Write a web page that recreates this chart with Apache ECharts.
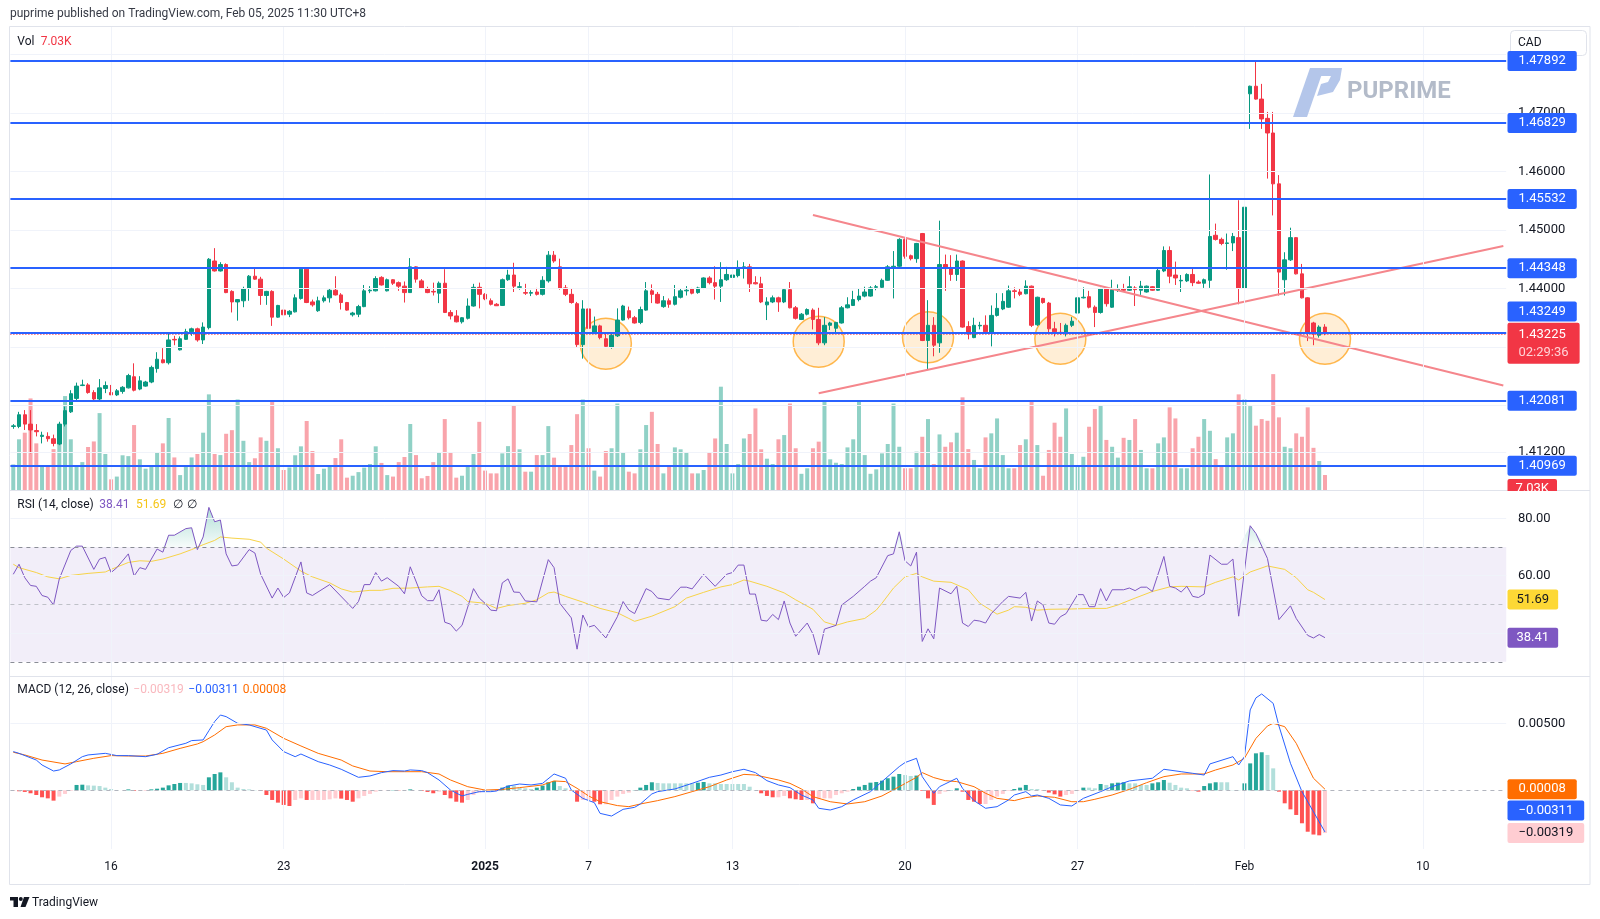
<!DOCTYPE html>
<html><head><meta charset="utf-8">
<script src="https://cdn.jsdelivr.net/npm/echarts@6/dist/echarts.min.js"></script>
<style>html,body{margin:0;padding:0;background:#fff}#c{width:1600px;height:919px}</style>
</head><body><div id="c"></div>
<script>
// ---------- DATA ----------
// candles: [open, high, low, close], 4h bars
const candles = [
[1.4164,1.4168,1.4160,1.4165],[1.4164,1.4189,1.4161,1.4184],[1.4184,1.4192,1.4158,1.4168],[1.4168,1.4192,1.4118,1.4158],[1.4157,1.4168,1.4147,1.4155],
[1.4147,1.4155,1.4135,1.4149],[1.4147,1.4154,1.4138,1.4143],[1.4143,1.4150,1.4130,1.4135],[1.4134,1.4172,1.4132,1.4168],[1.4168,1.4198,1.4164,1.4191],
[1.4189,1.4226,1.4187,1.4220],[1.4212,1.4239,1.4209,1.4233],[1.4234,1.4244,1.4233,1.4235],[1.4235,1.4238,1.4220,1.4222],[1.4222,1.4226,1.4208,1.4211],
[1.4211,1.4245,1.4208,1.4230],[1.4229,1.4241,1.4221,1.4234],[1.4222,1.4235,1.4218,1.4218],[1.4218,1.4228,1.4216,1.4225],[1.4224,1.4233,1.4220,1.4231],
[1.4230,1.4254,1.4229,1.4251],[1.4249,1.4272,1.4224,1.4226],[1.4228,1.4250,1.4226,1.4242],[1.4233,1.4242,1.4232,1.4240],[1.4240,1.4268,1.4238,1.4265],
[1.4263,1.4291,1.4256,1.4279],[1.4278,1.4298,1.4272,1.4273],[1.4273,1.4323,1.4270,1.4312],[1.4313,1.4319,1.4303,1.4312],[1.4295,1.4318,1.4294,1.4314],
[1.4313,1.4331,1.4312,1.4326],[1.4326,1.4333,1.4319,1.4331],[1.4331,1.4333,1.4309,1.4312],[1.4312,1.4342,1.4305,1.4334],[1.4333,1.4452,1.4330,1.4450],
[1.4447,1.4469,1.4429,1.4430],[1.4430,1.4445,1.4429,1.4441],[1.4441,1.4443,1.4392,1.4393],[1.4395,1.4397,1.4359,1.4377],[1.4377,1.4382,1.4345,1.4381],
[1.4379,1.4403,1.4368,1.4400],[1.4400,1.4423,1.4379,1.4421],[1.4421,1.4436,1.4415,1.4416],[1.4416,1.4420,1.4372,1.4388],[1.4388,1.4396,1.4372,1.4395],
[1.4395,1.4397,1.4336,1.4351],[1.4351,1.4372,1.4350,1.4371],[1.4363,1.4365,1.4353,1.4355],[1.4356,1.4363,1.4351,1.4361],[1.4360,1.4390,1.4359,1.4384],
[1.4383,1.4434,1.4381,1.4433],[1.4433,1.4434,1.4375,1.4376],[1.4377,1.4381,1.4369,1.4372],[1.4362,1.4386,1.4360,1.4379],[1.4379,1.4388,1.4376,1.4384],
[1.4384,1.4400,1.4376,1.4397],[1.4397,1.4421,1.4388,1.4389],[1.4389,1.4392,1.4364,1.4376],[1.4376,1.4377,1.4362,1.4363],[1.4355,1.4360,1.4352,1.4358],
[1.4356,1.4372,1.4351,1.4369],[1.4369,1.4406,1.4368,1.4396],[1.4396,1.4404,1.4392,1.4397],[1.4396,1.4421,1.4395,1.4417],[1.4419,1.4421,1.4405,1.4406],
[1.4396,1.4417,1.4395,1.4415],[1.4415,1.4416,1.4406,1.4409],[1.4410,1.4412,1.4396,1.4404],[1.4404,1.4412,1.4376,1.4393],[1.4393,1.4452,1.4393,1.4437],
[1.4437,1.4438,1.4410,1.4416],[1.4413,1.4416,1.4399,1.4400],[1.4400,1.4403,1.4392,1.4393],[1.4395,1.4410,1.4388,1.4394],[1.4392,1.4412,1.4375,1.4409],
[1.4409,1.4433,1.4358,1.4359],[1.4359,1.4363,1.4347,1.4353],[1.4353,1.4363,1.4342,1.4343],[1.4343,1.4351,1.4340,1.4350],[1.4349,1.4383,1.4347,1.4370],
[1.4370,1.4408,1.4369,1.4402],[1.4402,1.4410,1.4366,1.4390],[1.4390,1.4392,1.4380,1.4382],[1.4379,1.4383,1.4371,1.4373],[1.4373,1.4375,1.4370,1.43705],
[1.4371,1.4417,1.4370,1.4415],[1.4415,1.4432,1.4413,1.4423],[1.4423,1.4444,1.4394,1.4404],[1.4402,1.4411,1.4398,1.4403],[1.4393,1.4408,1.4389,1.4392],
[1.4392,1.4397,1.4387,1.4393],[1.4394,1.4401,1.4388,1.4390],[1.4390,1.4421,1.4388,1.4414],[1.4413,1.4464,1.4410,1.4457],[1.4457,1.4464,1.4444,1.4447],
[1.4437,1.4451,1.4398,1.4400],[1.4401,1.4406,1.4387,1.4390],[1.4390,1.4400,1.4374,1.4376],[1.4374,1.4377,1.4300,1.4304],[1.4304,1.4380,1.4280,1.4365],
[1.4365,1.4367,1.4330,1.4332],[1.4323,1.4352,1.4322,1.4336],[1.4336,1.4338,1.4313,1.4316],[1.4314,1.4322,1.4299,1.4301],[1.4300,1.4323,1.4297,1.4320],
[1.4319,1.4366,1.4317,1.4346],[1.4346,1.4372,1.4345,1.4370],[1.4362,1.4369,1.4347,1.4350],[1.4350,1.4353,1.4340,1.4341],[1.4342,1.4369,1.4339,1.4364],
[1.4363,1.4411,1.4362,1.4396],[1.4396,1.4407,1.4375,1.4390],[1.4390,1.4394,1.4374,1.4375],[1.4369,1.4387,1.4367,1.4379],[1.4379,1.4383,1.4367,1.4373],
[1.4373,1.4406,1.4371,1.4386],[1.4385,1.4400,1.4383,1.4396],[1.4396,1.4404,1.4388,1.4397],[1.4399,1.4401,1.4390,1.4392],[1.4393,1.4403,1.4391,1.4401],
[1.4400,1.4419,1.4399,1.4418],[1.4418,1.4421,1.4407,1.4410],[1.4410,1.4438,1.4381,1.4404],[1.4404,1.4445,1.4377,1.4415],[1.4415,1.4437,1.4413,1.4424],
[1.4419,1.4432,1.4417,1.4423],[1.4422,1.4448,1.4419,1.4436],[1.4436,1.4445,1.4417,1.4437],[1.4437,1.4442,1.4394,1.4408],[1.4410,1.4421,1.4407,1.4408],
[1.4408,1.4420,1.4375,1.4377],[1.4372,1.4385,1.4346,1.4377],[1.4377,1.4388,1.4375,1.4384],[1.4384,1.4386,1.4360,1.4377],[1.4377,1.4400,1.4375,1.4398],
[1.4398,1.4411,1.4366,1.4367],[1.4367,1.4370,1.4347,1.4349],[1.4347,1.4358,1.4346,1.4356],[1.4356,1.4366,1.4354,1.4364],[1.4363,1.4366,1.4330,1.4347],
[1.4347,1.4367,1.4303,1.4307],[1.4307,1.4351,1.4303,1.4337],[1.4337,1.4343,1.4329,1.4341],[1.4332,1.4343,1.4322,1.4342],[1.4341,1.4370,1.4340,1.4367],
[1.4367,1.4385,1.4366,1.4372],[1.4371,1.4396,1.4370,1.4381],[1.4381,1.4400,1.4378,1.4387],[1.4387,1.4403,1.4385,1.4394],[1.4387,1.4404,1.4386,1.4401],
[1.4402,1.4406,1.4397,1.4403],[1.4402,1.4417,1.4400,1.4414],[1.4414,1.4440,1.4413,1.4437],[1.4437,1.4464,1.4383,1.4438],[1.4438,1.4486,1.4436,1.4484],
[1.4484,1.4486,1.4451,1.4455],[1.4456,1.4458,1.4448,1.4451],[1.4451,1.4478,1.4444,1.4477],[1.4494,1.4495,1.4310,1.4311],[1.4311,1.4380,1.4261,1.4337],
[1.4337,1.4351,1.4284,1.4303],[1.4307,1.4516,1.4290,1.4441],[1.4441,1.4458,1.4396,1.4434],[1.4436,1.4457,1.4413,1.4424],[1.4424,1.4458,1.4413,1.4447],
[1.4447,1.4448,1.4333,1.4334],[1.4335,1.4344,1.4313,1.4322],[1.4316,1.4350,1.4315,1.4337],[1.4336,1.4343,1.4330,1.4337],[1.4337,1.4354,1.4323,1.4326],
[1.4324,1.4371,1.4301,1.4354],[1.4354,1.4392,1.4352,1.4366],[1.4365,1.4392,1.4363,1.4378],[1.4368,1.4405,1.4367,1.4396],[1.4396,1.4402,1.4383,1.4395],
[1.4394,1.4400,1.4387,1.4390],[1.4391,1.4414,1.4390,1.4404],[1.4404,1.4405,1.4334,1.4337],[1.4338,1.4386,1.4336,1.4385],[1.4383,1.4384,1.4374,1.4376],
[1.4375,1.4377,1.4322,1.4331],[1.4331,1.4343,1.4318,1.4326],[1.4325,1.4341,1.4321,1.4324],[1.4323,1.4340,1.4318,1.4337],[1.4337,1.4351,1.4334,1.4344],
[1.4358,1.4390,1.4357,1.4384],[1.4384,1.4402,1.4383,1.4385],[1.4386,1.4396,1.4366,1.4368],[1.4368,1.4371,1.4334,1.4359],[1.4359,1.4401,1.4357,1.4399],
[1.4399,1.4401,1.4369,1.4374],[1.4368,1.4415,1.4367,1.4398],[1.4398,1.4407,1.4394,1.4399],[1.4400,1.4408,1.4394,1.4397],[1.4397,1.4421,1.4396,1.4403],
[1.4401,1.4404,1.4370,1.4398],[1.4397,1.4413,1.4389,1.4404],[1.4394,1.4405,1.4393,1.4404],[1.4403,1.4404,1.4396,1.4397],[1.4397,1.4434,1.4396,1.4431],
[1.4430,1.4472,1.4428,1.4465],[1.4465,1.4472,1.4409,1.4421],[1.4423,1.4446,1.4406,1.4418],[1.4413,1.4423,1.4394,1.4414],[1.4413,1.4426,1.4411,1.4424],
[1.4424,1.4436,1.4404,1.4410],[1.4411,1.4414,1.4408,1.4409],[1.4409,1.4417,1.4401,1.4415],[1.4414,1.4595,1.4401,1.4489],[1.4491,1.4511,1.4482,1.4484],
[1.4484,1.4487,1.4474,1.4477],[1.4477,1.4494,1.4432,1.4478],[1.4478,1.4495,1.4464,1.4489],[1.4487,1.4551,1.4373,1.4400],[1.4400,1.4559,1.4391,1.4539],
[1.4733,1.4747,1.4673,1.4746],[1.4746,1.47892,1.4723,1.4724],[1.4724,1.4750,1.4673,1.4690],[1.4691,1.4702,1.4588,1.4666],[1.4666,1.4702,1.4525,1.4579],
[1.4579,1.4594,1.4388,1.4428],[1.4415,1.4462,1.4388,1.4449],[1.4449,1.4504,1.4447,1.4487],[1.4487,1.4488,1.4424,1.4425],[1.4425,1.4442,1.4383,1.4384],
[1.4384,1.4385,1.4310,1.4324],[1.4341,1.4343,1.4303,1.4322],[1.4320,1.4337,1.4316,1.4334],[1.4334,1.4339,1.4320,1.43225]
];
// volume in thousands
const volumes = [
12.0,23.8,26.9,43.0,21.9,11.3,11.7,19.2,30.8,44.1,23.8,11.3,13.1,20.2,22.8,36.1,16.9,5.0,6.3,16.3,
15.9,30.5,14.4,10.0,11.3,17.8,21.9,33.8,15.3,7.0,11.3,15.3,16.9,26.9,44.9,16.9,16.4,26.4,28.1,42.5,
23.1,13.1,14.9,24.7,23.1,41.3,19.6,9.4,10.6,16.3,20.5,32.4,18.3,7.5,10.0,11.7,15.0,23.8,5.8,6.7,
8.4,10.5,12.2,20.5,12.7,7.0,6.3,13.1,15.5,31.0,16.4,5.5,6.6,13.1,17.8,33.3,17.8,5.8,6.7,11.7,
16.9,32.0,9.1,7.8,7.8,17.2,20.6,39.9,19.1,8.6,8.6,16.4,16.4,30.0,15.2,11.7,11.7,21.1,35.6,42.5,
19.6,9.1,6.3,18.3,19.6,40.6,17.5,8.6,7.8,19.1,30.5,36.7,21.6,7.8,10.9,20.0,19.1,17.8,7.8,7.8,
9.4,17.8,24.2,48.5,21.6,7.8,12.2,24.2,26.3,38.3,19.1,14.7,12.2,23.8,25.8,40.6,19.6,7.6,10.2,19.6,
22.7,41.4,14.4,12.8,12.2,20.0,23.8,41.4,16.4,7.6,9.7,17.2,21.6,40.6,20.3,10.2,10.2,18.0,25.0,33.3,
12.2,26.1,20.3,22.4,26.9,43.5,19.2,14.1,10.2,24.7,26.6,33.6,16.4,10.2,10.2,21.1,23.8,41.4,21.1,6.7,
18.8,31.6,25.0,38.3,16.9,11.3,15.6,29.7,38.0,39.9,23.5,20.3,15.2,24.5,23.5,33.3,18.8,10.2,10.2,21.9,
24.7,38.8,33.6,10.2,10.2,19.6,25.0,33.3,27.8,14.5,11.7,24.7,26.6,44.9,42.5,39.4,30.2,33.3,32.5,54.4,
34.1,20.3,19.6,26.6,25.0,38.8,19.8,13.6,7.03
];
// RSI(14) vertices [bar index, value]
const rsi = [[0,60.5],[1,64.0],[2,59.3],[3,56.6],[4,56.3],[5,53.1],[6,52.5],[7,49.8],[8,58.9],[10,68.8],[11,70.3],[12,70.3],[14,62.2],[15,65.8],[16,66.4],[17,61.1],[18,62.8],[20,67.6],[21,59.9],[22,62.8],[23,62.2],[24,65.8],[25,69.3],[26,68.2],[27,74.1],[28,74.1],[30,76.4],[31,76.7],[32,69.1],[33,73.5],[34,83.8],[35,78.8],[36,79.4],[37,67.6],[38,63.4],[39,63.7],[41,69.1],[42,67.9],[43,60.5],[45,52.2],[46,55.7],[47,52.4],[48,54.0],[50,64.8],[51,54.0],[52,53.1],[55,56.9],[59,48.6],[60,51.0],[61,56.9],[62,56.9],[63,61.1],[64,58.1],[65,59.3],[67,56.3],[68,53.7],[69,63.1],[71,53.0],[72,51.3],[73,51.3],[74,55.1],[75,43.8],[76,43.1],[77,40.7],[78,42.7],[80,55.5],[81,52.2],[82,50.4],[83,48.0],[84,47.8],[85,57.5],[86,58.9],[87,54.3],[88,54.2],[89,51.2],[91,50.9],[93,65.6],[94,62.8],[95,50.4],[97,45.3],[98,34.4],[99,46.3],[100,42.1],[101,42.7],[103,38.3],[105,45.7],[106,51.0],[107,48.0],[108,46.8],[110,55.5],[111,54.5],[112,52.2],[114,51.6],[116,56.0],[117,56.0],[118,55.4],[120,60.5],[122,56.3],[124,60.5],[125,61.1],[126,63.7],[127,63.7],[128,53.6],[129,53.6],[130,44.5],[131,44.2],[132,46.5],[133,44.7],[134,51.2],[135,43.5],[136,38.9],[138,43.5],[139,39.7],[140,32.4],[141,41.4],[143,42.7],[144,49.8],[146,52.8],[148,56.3],[149,58.1],[150,59.3],[152,67.0],[153,67.6],[154,75.3],[155,65.2],[156,63.4],[157,68.2],[158,37.1],[159,41.5],[160,38.0],[161,55.7],[163,53.7],[164,56.3],[165,43.5],[166,42.3],[167,44.5],[168,44.2],[169,43.5],[170,46.8],[172,51.0],[173,52.8],[175,52.2],[176,54.2],[177,44.2],[178,51.2],[179,49.8],[180,43.5],[181,43.1],[182,45.7],[183,46.8],[185,53.4],[186,53.4],[187,49.2],[188,49.2],[189,55.5],[190,51.2],[191,55.1],[193,55.1],[194,55.7],[195,54.8],[196,56.0],[197,56.0],[198,54.5],[200,66.7],[201,56.3],[202,55.7],[203,54.3],[204,56.3],[205,52.8],[206,52.4],[207,53.6],[208,67.2],[210,64.0],[211,64.0],[212,65.8],[213,45.9],[215,77.4],[216,74.7],[218,66.0],[220,44.7],[222,49.5],[223,45.1],[225,39.2],[226,38.3],[227,39.5],[228,38.41]];
// RSI moving average vertices
const rsiMA = [[0,64.0],[1,62.8],[4,61.1],[6,59.6],[8,58.9],[10,60.1],[13,60.8],[16,61.3],[17,62.2],[20,64.6],[22,65.2],[24,65.0],[26,65.8],[29,67.6],[31,69.1],[33,70.8],[35,72.3],[36,73.5],[38,73.1],[41,72.7],[43,71.7],[44,69.6],[47,65.8],[50,61.6],[52,59.6],[55,57.5],[57,55.4],[59,54.3],[62,54.9],[64,54.9],[66,55.6],[69,55.7],[72,56.1],[74,56.3],[76,54.8],[78,52.8],[79,51.0],[82,50.4],[84,48.6],[86,49.6],[89,50.4],[91,51.6],[93,54.0],[94,54.3],[96,52.8],[99,50.8],[102,48.6],[105,47.1],[107,45.1],[108,44.1],[111,45.9],[115,49.2],[117,52.2],[120,54.2],[123,56.1],[125,56.9],[127,58.5],[128,58.1],[131,56.3],[134,54.0],[136,51.6],[139,48.3],[141,43.9],[143,42.7],[145,43.9],[148,45.1],[150,48.0],[151,50.4],[153,55.7],[155,59.6],[157,60.8],[158,59.6],[160,58.1],[163,57.7],[166,55.1],[168,50.4],[171,46.6],[173,48.0],[174,49.2],[176,49.0],[178,48.0],[180,48.3],[184,48.4],[187,48.6],[190,48.6],[192,49.8],[195,52.2],[198,54.5],[201,56.1],[203,56.3],[207,56.1],[209,57.7],[212,59.6],[213,58.5],[215,61.3],[218,63.4],[221,62.2],[223,59.3],[225,55.1],[226,54.2],[228,51.69]];
// MACD line vertices
const macdLine = [[0,0.00289],[1,0.00276],[4,0.00226],[5,0.00189],[7,0.00144],[8,0.00152],[10,0.00197],[12,0.00251],[13,0.00264],[16,0.00276],[18,0.00259],[20,0.00259],[23,0.00251],[25,0.00269],[27,0.00318],[30,0.00351],[31,0.00371],[33,0.00376],[34,0.00445],[35,0.00513],[36,0.00562],[37,0.00550],[39,0.00500],[41,0.00488],[44,0.00450],[45,0.00376],[47,0.00289],[49,0.00251],[50,0.00271],[53,0.00214],[55,0.00189],[57,0.00157],[60,0.00097],[62,0.00107],[64,0.00132],[66,0.00147],[68,0.00144],[69,0.00152],[71,0.00147],[72,0.00132],[74,0.00077],[76,0.00002],[78,-0.00042],[79,-0.00030],[81,-0.00010],[83,-0.00010],[84,-0.00005],[86,0.00032],[88,0.00047],[90,0.00040],[92,0.00052],[94,0.00122],[96,0.00090],[97,0.00002],[99,-0.00060],[101,-0.00092],[102,-0.00172],[104,-0.00192],[106,-0.00142],[108,-0.00127],[109,-0.00102],[111,-0.00027],[112,-0.00010],[115,0.00010],[118,0.00052],[121,0.00097],[123,0.00114],[125,0.00139],[127,0.00157],[129,0.00132],[131,0.00072],[133,0.00040],[135,0.00020],[137,-0.00035],[139,-0.00072],[140,-0.00134],[142,-0.00147],[144,-0.00122],[146,-0.00072],[149,-0.00010],[151,0.00065],[154,0.00177],[155,0.00207],[157,0.00239],[158,0.00102],[160,-0.00022],[161,0.00027],[164,0.00090],[165,0.00015],[167,-0.00077],[169,-0.00134],[171,-0.00122],[173,-0.00072],[174,-0.00035],[176,-0.00010],[177,-0.00042],[178,-0.00035],[180,-0.00060],[182,-0.00109],[184,-0.00117],[186,-0.00060],[189,-0.00010],[191,0.00027],[194,0.00070],[198,0.00090],[200,0.00157],[203,0.00139],[205,0.00127],[207,0.00114],[208,0.00197],[212,0.00251],[213,0.00189],[214,0.00251],[215,0.00600],[216,0.00690],[217,0.00719],[219,0.00649],[220,0.00480],[222,0.00202],[224,-0.00010],[228,-0.00311]];
// signal line vertices
const signalLine = [[0,0.00284],[2,0.00264],[5,0.00226],[9,0.00197],[11,0.00214],[14,0.00239],[17,0.00259],[20,0.00256],[23,0.00256],[26,0.00276],[29,0.00313],[32,0.00346],[33,0.00363],[35,0.00413],[37,0.00475],[39,0.00488],[42,0.00488],[44,0.00463],[47,0.00388],[50,0.00331],[53,0.00276],[57,0.00226],[59,0.00182],[62,0.00144],[65,0.00139],[68,0.00139],[71,0.00139],[74,0.00122],[76,0.00077],[79,0.00027],[82,0.00002],[85,0.00007],[88,0.00020],[92,0.00040],[94,0.00070],[96,0.00065],[98,0.00015],[100,-0.00042],[102,-0.00085],[105,-0.00114],[107,-0.00122],[109,-0.00102],[112,-0.00077],[115,-0.00047],[118,-0.00010],[121,0.00027],[124,0.00077],[127,0.00119],[129,0.00114],[133,0.00077],[135,0.00052],[137,0.00010],[139,-0.00047],[142,-0.00085],[145,-0.00102],[148,-0.00085],[151,-0.00042],[154,0.00027],[157,0.00097],[158,0.00132],[160,0.00095],[162,0.00072],[164,0.00065],[167,0.00027],[169,-0.00022],[171,-0.00060],[174,-0.00077],[176,-0.00055],[178,-0.00042],[181,-0.00052],[184,-0.00085],[186,-0.00085],[188,-0.00067],[191,-0.00035],[194,0.00007],[197,0.00057],[200,0.00102],[203,0.00122],[207,0.00122],[209,0.00152],[212,0.00189],[214,0.00239],[216,0.00388],[218,0.00480],[219,0.00500],[221,0.00475],[223,0.00351],[225,0.00177],[226,0.00090],[228,0.00008]];
// MACD histogram, one per bar
const macdHist = [
-0.00005,-0.00007,-0.00012,-0.00022,-0.00035,-0.00052,-0.00060,-0.00077,-0.00047,-0.00027,
-0.00005,0.00040,0.00042,0.00037,0.00035,0.00032,0.00020,0.00010,0.00002,0.00000,
0.00007,-0.00005,-0.00005,-0.00005,0.00007,0.00012,0.00020,0.00037,0.00047,0.00055,
0.00055,0.00052,0.00045,0.00040,0.00097,0.00122,0.00134,0.00097,0.00060,0.00020,
0.00010,0.00007,0.00002,-0.00005,-0.00035,-0.00072,-0.00092,-0.00109,-0.00117,-0.00072,
-0.00060,-0.00072,-0.00072,-0.00072,-0.00072,-0.00067,-0.00060,-0.00062,-0.00072,-0.00085,
-0.00060,-0.00042,-0.00027,-0.00010,-0.00002,-0.00002,0.00002,-0.00002,0.00000,0.00007,
0.00000,-0.00005,-0.00012,-0.00022,-0.00010,-0.00035,-0.00060,-0.00085,-0.00092,-0.00072,
-0.00035,-0.00017,-0.00010,-0.00002,-0.00005,0.00020,0.00035,0.00035,0.00020,0.00015,
0.00010,0.00020,0.00035,0.00060,0.00070,0.00032,0.00015,-0.00005,-0.00085,-0.00072,
-0.00072,-0.00085,-0.00104,-0.00104,-0.00072,-0.00047,-0.00027,-0.00017,0.00002,0.00020,
0.00040,0.00060,0.00055,0.00052,0.00052,0.00052,0.00052,0.00052,0.00052,0.00057,
0.00062,0.00052,0.00052,0.00047,0.00047,0.00047,0.00047,0.00047,0.00027,0.00002,
-0.00022,-0.00042,-0.00052,-0.00052,-0.00042,-0.00060,-0.00067,-0.00072,-0.00072,-0.00097,
-0.00067,-0.00060,-0.00060,-0.00035,-0.00022,-0.00010,0.00010,0.00027,0.00040,0.00057,
0.00062,0.00072,0.00090,0.00102,0.00122,0.00114,0.00107,0.00110,-0.00005,-0.00060,
-0.00109,-0.00027,-0.00010,0.00002,0.00015,-0.00010,-0.00072,-0.00085,-0.00102,-0.00102,
-0.00072,-0.00047,-0.00027,-0.00005,0.00010,0.00020,0.00040,0.00010,0.00010,-0.00002,
-0.00017,-0.00030,-0.00047,-0.00035,-0.00027,-0.00005,0.00020,0.00020,0.00015,0.00047,
0.00040,0.00052,0.00057,0.00060,0.00052,0.00052,0.00040,0.00040,0.00052,0.00060,
0.00077,0.00057,0.00040,0.00020,0.00015,-0.00002,-0.00010,0.00032,0.00052,0.00060,
0.00060,0.00060,0.00002,0.00002,0.00052,0.00201,0.00276,0.00284,0.00264,0.00164,
-0.00010,-0.00097,-0.00142,-0.00184,-0.00246,-0.00309,-0.00330,-0.00336,-0.00319
];
// horizontal levels drawn on the chart
const levels = [1.47892, 1.46829, 1.45532, 1.44348, 1.43249, 1.42081, 1.40969];
const lastPrice = 1.43225;
const countdown = '02:29:36';
const priceGridVals = [1.48, 1.47, 1.46, 1.45, 1.44, 1.43, 1.42, 1.412];
const priceTickLabels = [[1.47,'1.47000'],[1.46,'1.46000'],[1.45,'1.45000'],[1.44,'1.44000'],[1.412,'1.41200']];
// trend lines [bar index, price]
const trendDown = [[139, 1.45257], [259, 1.42342]];
const trendUp = [[140, 1.42207], [259, 1.44727]];
// highlighted touches [bar index, price]
const circles = [[103, 1.43056], [140, 1.43090], [159, 1.43165], [182, 1.43141], [228, 1.43141]];
// time axis ticks
const tickIndex = [17, 47, 82, 100, 125, 155, 185, 214, 245];
const tickLabels = ['16', '23', '2025', '7', '13', '20', '27', 'Feb', '10'];
const rsiLast = 38.41, rsiMALast = 51.69;
const macdLast = -0.00311, signalLast = 0.00008, histLast = -0.00319;

// ---------- CHART ----------
const N = 260;
const cats = Array.from({length: N}, (_, i) => String(i));
const UP = '#089981', DN = '#f23645';
const FAM = 'Roboto, "Noto Sans", sans-serif';
const GL = 10.4, GW = 1495.8;
const gridCol = '#f0f3fa';
const labelAt = {};
tickIndex.forEach((t, k) => labelAt[t] = tickLabels[k]);

const chart = echarts.init(document.getElementById('c'), null, {renderer: 'canvas'});

const grids = [
  {left: GL, width: GW, top: 27, height: 463},
  {left: GL, width: GW, top: 277, height: 213},
  {left: GL, width: GW, top: 490, height: 186.7},
  {left: GL, width: GW, top: 676.7, height: 172.3}
];
const xAxes = grids.map((g, k) => ({
  type: 'category', gridIndex: k, data: cats, boundaryGap: true,
  axisLine: {show: false}, axisTick: {show: false}, splitLine: {show: false},
  axisLabel: {
    show: k === 3, margin: 12, color: '#131722', fontSize: 12, fontFamily: FAM,
    interval: (idx) => labelAt[idx] !== undefined,
    formatter: (v, idx) => labelAt[idx] === '2025' ? '{b|2025}' : (labelAt[idx] || ''),
    rich: {b: {fontWeight: 'bold', fontSize: 12, fontFamily: FAM, color: '#131722'}}
  }
}));
const yRanges = [[1.40553, 1.48473], [0, 100], [24.81, 89.86], [-0.00438, 0.00848]];
const yAxes = yRanges.map((r, k) => ({
  type: 'value', gridIndex: k, min: r[0], max: r[1], show: false, splitLine: {show: false}
}));

function vLines() { return tickIndex.map(t => ({xAxis: t})); }
function mk(data, extra) {
  return Object.assign({silent: true, symbol: ['none', 'none'], animation: false, precision: 8,
    label: {show: false}, data: data}, extra || {});
}
function gridSeries(k, hVals, extra) {
  return Object.assign({
    type: 'line', xAxisIndex: k, yAxisIndex: k, data: [], z: 0, silent: true,
    markLine: mk(vLines().concat(hVals.map(v => ({yAxis: v}))),
      {lineStyle: {color: gridCol, width: 1, type: 'solid'}})
  }, extra || {});
}

const volData = volumes.map((v, i) => ({
  value: v,
  itemStyle: {color: candles[i][3] >= candles[i][0] ? 'rgba(8,153,129,0.45)' : 'rgba(242,54,69,0.45)'}
}));
const histData = macdHist.map((v, i) => {
  const p = i > 0 ? macdHist[i - 1] : v;
  let c;
  if (v >= 0) c = v > p ? '#26a69a' : '#b2dfdb';
  else c = v < p ? '#ff5252' : '#ffcdd2';
  return {value: v, itemStyle: {color: c}};
});

const option = {
  animation: false,
  backgroundColor: '#ffffff',
  grid: grids, xAxis: xAxes, yAxis: yAxes,
  series: [
    gridSeries(0, priceGridVals),
    {type: 'bar', xAxisIndex: 1, yAxisIndex: 1, data: volData, barWidth: 4, z: 1, silent: true},
    {type: 'scatter', xAxisIndex: 0, yAxisIndex: 0, data: circles, symbol: 'circle', symbolSize: 51, z: 1,
      itemStyle: {color: 'rgba(255,152,0,0.2)', borderColor: 'rgba(255,152,0,0.85)', borderWidth: 1.5}, silent: true},
    {type: 'candlestick', xAxisIndex: 0, yAxisIndex: 0, z: 2, barWidth: 4,
      data: candles.map(c => [c[0], c[3], c[2], c[1]]),
      itemStyle: {color: UP, color0: DN, borderColor: UP, borderColor0: DN, borderWidth: 1}},
    {type: 'line', xAxisIndex: 0, yAxisIndex: 0, data: trendDown, symbol: 'none', z: 3,
      lineStyle: {color: '#f5868c', width: 2}, silent: true},
    {type: 'line', xAxisIndex: 0, yAxisIndex: 0, data: trendUp, symbol: 'none', z: 3,
      lineStyle: {color: '#f5868c', width: 2}, silent: true},
    {type: 'line', xAxisIndex: 0, yAxisIndex: 0, data: [], z: 4, silent: true,
      markLine: mk(levels.map(v => ({yAxis: v, lineStyle: {color: '#2962ff', width: 2, type: 'solid'}}))
          .concat([{yAxis: lastPrice, lineStyle: {color: '#f23645', width: 1, type: [1, 2]}}]))},
    // RSI pane
    gridSeries(2, [80, 60, 40], {
      markArea: {silent: true, itemStyle: {color: 'rgba(126,87,194,0.1)'}, data: [[{yAxis: 30}, {yAxis: 70}]]}
    }),
    {type: 'line', xAxisIndex: 2, yAxisIndex: 2, data: [], z: 1, silent: true,
      markLine: mk([
          {yAxis: 70, lineStyle: {color: '#8a8d96', width: 1, type: [4, 4]}},
          {yAxis: 50, lineStyle: {color: '#bfc1c8', width: 1, type: [4, 4]}},
          {yAxis: 30, lineStyle: {color: '#8a8d96', width: 1, type: [4, 4]}}
        ])},
    {type: 'line', xAxisIndex: 2, yAxisIndex: 2, stack: 'ob', symbol: 'none', z: 2, silent: true,
      data: rsi.map(p => [p[0], 70]), lineStyle: {opacity: 0}},
    {type: 'line', xAxisIndex: 2, yAxisIndex: 2, stack: 'ob', symbol: 'none', z: 2, silent: true,
      data: rsi.map(p => [p[0], Math.max(0, p[1] - 70)]), lineStyle: {opacity: 0},
      areaStyle: {color: new echarts.graphic.LinearGradient(0, 0, 0, 1, [
        {offset: 0, color: 'rgba(8,153,129,0.45)'}, {offset: 1, color: 'rgba(8,153,129,0.05)'}])}},
    {type: 'line', xAxisIndex: 2, yAxisIndex: 2, data: rsiMA, symbol: 'none', z: 3, silent: true,
      lineStyle: {color: '#f7d348', width: 1}},
    {type: 'line', xAxisIndex: 2, yAxisIndex: 2, data: rsi, symbol: 'none', z: 4, silent: true,
      lineStyle: {color: '#7e57c2', width: 1}},
    // MACD pane
    gridSeries(3, [0.005]),
    {type: 'line', xAxisIndex: 3, yAxisIndex: 3, data: [], z: 1, silent: true,
      markLine: mk([{yAxis: 0, lineStyle: {color: '#b2b5be', width: 1, type: [4, 4]}}])},
    {type: 'bar', xAxisIndex: 3, yAxisIndex: 3, data: histData, barWidth: 4, z: 2, silent: true},
    {type: 'line', xAxisIndex: 3, yAxisIndex: 3, data: signalLine, symbol: 'none', z: 3, silent: true,
      lineStyle: {color: '#ff6d00', width: 1}},
    {type: 'line', xAxisIndex: 3, yAxisIndex: 3, data: macdLine, symbol: 'none', z: 4, silent: true,
      lineStyle: {color: '#2962ff', width: 1}}
  ]
};
chart.setOption(option);

// ---------- overlay texts (positions from the library's scales) ----------
const yPix = (ax, v) => chart.convertToPixel({yAxisIndex: ax}, v);
const g = [];
g.push({type: 'rect', shape: {x: 9.5, y: 26.5, width: 1580.5, height: 858}, style: {fill: 'none', stroke: '#e0e3eb', lineWidth: 1}, z: 50, silent: true});
g.push({type: 'line', shape: {x1: 10, y1: 490.5, x2: 1590, y2: 490.5}, style: {stroke: '#e0e3eb', lineWidth: 1}, z: 50});
g.push({type: 'line', shape: {x1: 10, y1: 676.5, x2: 1590, y2: 676.5}, style: {stroke: '#e0e3eb', lineWidth: 1}, z: 50});

function txt(x, y, text, fill, size, extra) {
  return {type: 'text', x: x, y: y, z: 60, silent: true,
    style: Object.assign({text: text, fill: fill, fontSize: size || 12, fontFamily: FAM, fontWeight: 'normal',
      verticalAlign: 'middle', align: 'left'}, extra || {})};
}
function box(x, y, text, bg, fg, extra) {
  return {type: 'text', x: x, y: y, z: 70, silent: true,
    style: Object.assign({text: text, fill: fg, fontSize: 13, fontFamily: FAM, verticalAlign: 'middle', align: 'left',
      backgroundColor: bg, padding: [4, 11, 3, 11], borderRadius: 2}, extra || {})};
}
// header
g.push(txt(10, 14, 'puprime published on TradingView.com, Feb 05, 2025 11:30 UTC+8', '#363a45', 12));
g.push(txt(17.3, 41.7, 'Vol', '#131722', 12));
g.push(txt(40.7, 41.7, '7.03K', '#f23645', 12));
// RSI legend
g.push(txt(17.3, 505, 'RSI (14, close)', '#131722', 12));
g.push(txt(99.3, 505, rsiLast.toFixed(2), '#7e57c2', 12));
g.push(txt(136, 505, rsiMALast.toFixed(2), '#f5c518', 12));
g.push(txt(172.7, 505, '∅', '#131722', 12));
g.push(txt(186.7, 505, '∅', '#131722', 12));
// MACD legend
g.push(txt(17.3, 690, 'MACD (12, 26, close)', '#131722', 12));
g.push(txt(133.3, 690, '−' + Math.abs(histLast).toFixed(5), '#f9b8be', 12));
g.push(txt(188.3, 690, '−' + Math.abs(macdLast).toFixed(5), '#2962ff', 12));
g.push(txt(242.7, 690, signalLast.toFixed(5), '#ff6d00', 12));
// CAD button
g.push({type: 'rect', shape: {x: 1510.5, y: 30.5, width: 76, height: 25, r: 4}, style: {fill: '#fff', stroke: '#e0e3eb', lineWidth: 1}, z: 60});
g.push(txt(1518, 43, 'CAD', '#131722', 12));
// watermark
g.push({type: 'polygon', shape: {points: [[1293, 117], [1307, 117], [1324, 68], [1310, 68]]}, style: {fill: '#b4c6ea'}, z: 40});
g.push({type: 'polygon', shape: {points: [[1316, 68], [1342, 68], [1340, 80], [1333, 92], [1317, 96], [1321, 84], [1328, 82], [1331, 76], [1314, 76]]}, style: {fill: '#b4c6ea'}, z: 40});
g.push(txt(1347, 92, 'PUPRIME', '#b3bbc9', 24, {fontWeight: 'bold'}));
// price axis gray labels
priceTickLabels.forEach(p => g.push(txt(1518, yPix(0, p[0]), p[1], '#131722', 13)));
// level boxes
levels.forEach(v => {
  const shift = v === 1.43249 ? -21 : 0;
  g.push(box(1507.5, yPix(0, v) + shift, v.toFixed(5), '#2962ff', '#ffffff'));
});
// volume last value box (partly hidden under pane border)
g.push(box(1507.5, 489, '7.03K', '#f23645', '#ffffff', {padding: [4, 8, 3, 8]}));
g.push({type: 'rect', shape: {x: 1500, y: 491, width: 89, height: 12}, style: {fill: '#ffffff'}, z: 75});
// last price
g.push({type: 'text', x: 1507.5, y: yPix(0, lastPrice) + 9.5, z: 72, silent: true,
  style: {text: '{a|' + lastPrice.toFixed(5) + '}\n{b|' + countdown + '}', verticalAlign: 'middle', align: 'left',
    backgroundColor: '#f23645', padding: [3, 11, 2, 11], borderRadius: 2,
    rich: {a: {fill: '#ffffff', fontSize: 13, fontFamily: FAM, lineHeight: 18}, b: {fill: '#ffd2d6', fontSize: 13, fontFamily: FAM, lineHeight: 18}}}});
// RSI axis labels
g.push(txt(1518, yPix(2, 80), '80.00', '#131722', 13));
g.push(txt(1518, yPix(2, 60), '60.00', '#131722', 13));
g.push(box(1507.5, yPix(2, rsiMALast), rsiMALast.toFixed(2), '#fdd835', '#131722', {padding: [4, 9, 3, 9]}));
g.push(box(1507.5, yPix(2, rsiLast), rsiLast.toFixed(2), '#7e57c2', '#ffffff', {padding: [4, 9, 3, 9]}));
// MACD axis labels
g.push(txt(1518, yPix(3, 0.005), '0.00500', '#131722', 13));
g.push(box(1507.5, yPix(3, signalLast), signalLast.toFixed(5), '#ff6d00', '#ffffff'));
g.push(box(1507.5, yPix(3, macdLast) - 21.5, '−' + Math.abs(macdLast).toFixed(5), '#2962ff', '#ffffff'));
g.push(box(1507.5, yPix(3, histLast), '−' + Math.abs(histLast).toFixed(5), '#ffcdd2', '#131722'));
// footer logo
g.push({type: 'rect', shape: {x: 10, y: 897, width: 8, height: 3.5}, style: {fill: '#131722'}, z: 60});
g.push({type: 'rect', shape: {x: 13.5, y: 897, width: 4.5, height: 10}, style: {fill: '#131722'}, z: 60});
g.push({type: 'circle', shape: {cx: 20.8, cy: 899, r: 2}, style: {fill: '#131722'}, z: 60});
g.push({type: 'polygon', shape: {points: [[24, 897], [29.5, 897], [25.5, 907], [20.5, 907]]}, style: {fill: '#131722'}, z: 60});
g.push(txt(32, 902.5, 'TradingView', '#131722', 12));

chart.setOption({graphic: {elements: g}});
</script>
</body></html>
